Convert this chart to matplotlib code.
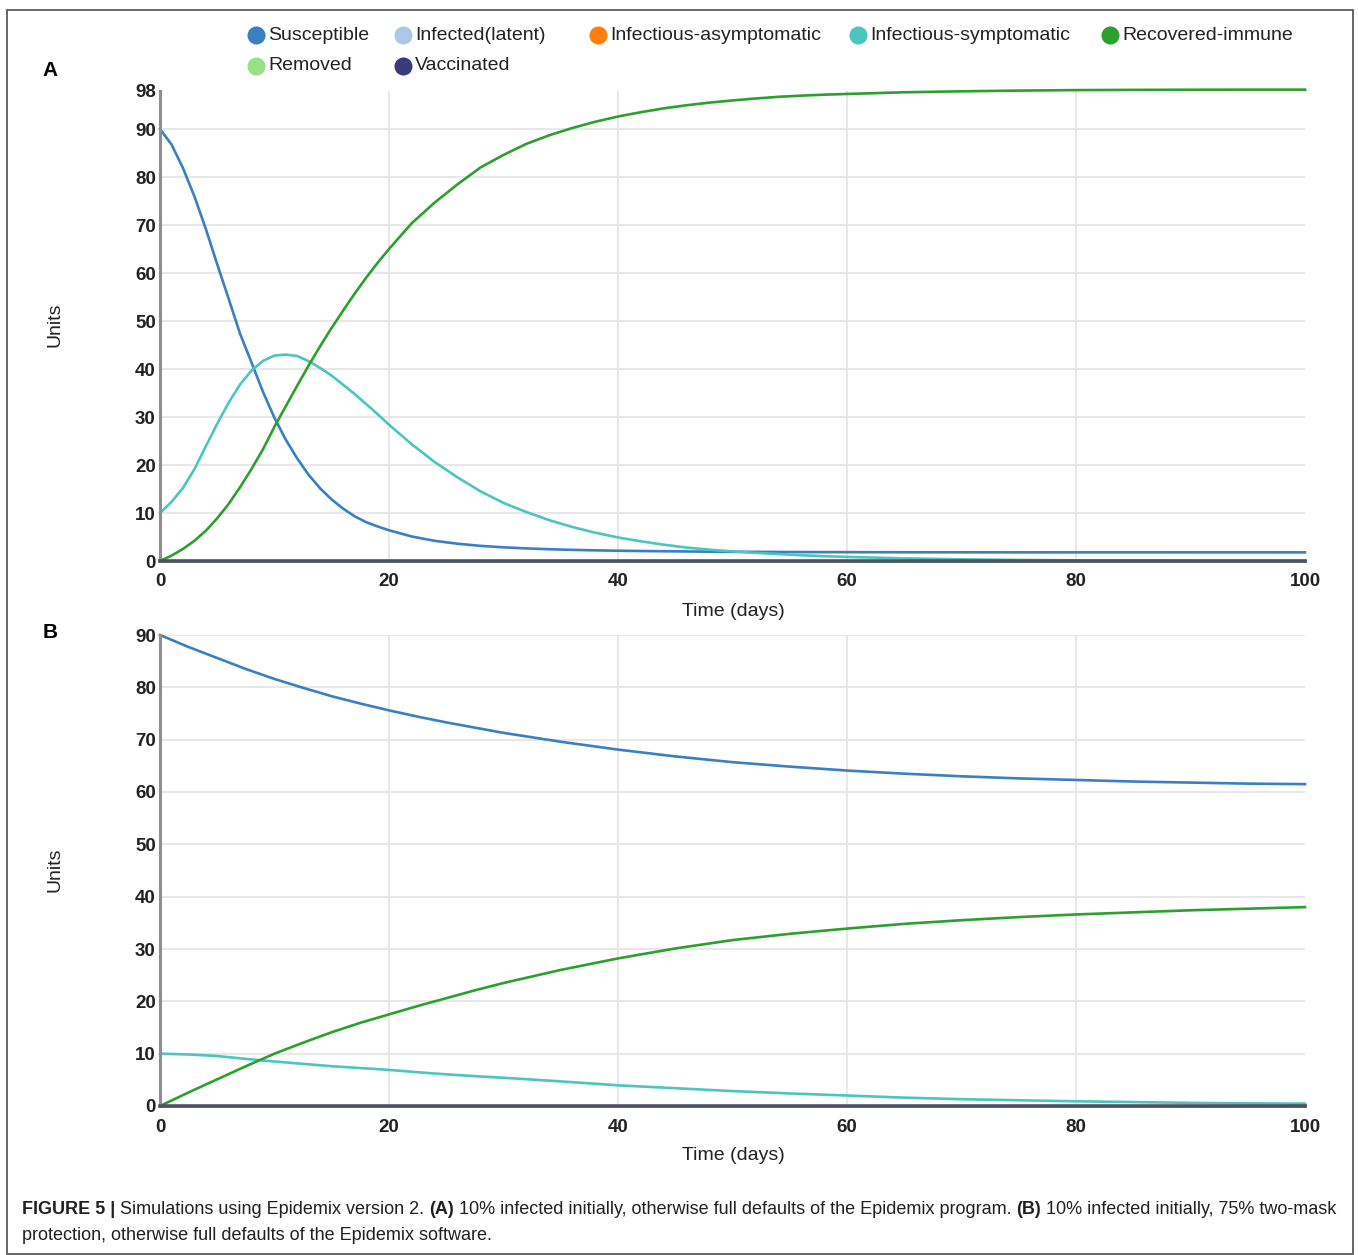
import matplotlib
matplotlib.use('Agg')
import matplotlib.pyplot as plt
from matplotlib.patches import Rectangle

NARROW = ['Liberation Sans Narrow', 'Liberation Sans', 'DejaVu Sans']
plt.rcParams['font.family'] = NARROW

# ---- data ----
# panel A (10% infected, full defaults)
tA = [0, 1, 2, 3, 4, 5, 6, 7, 8, 9, 10, 11, 12, 13, 14, 15, 16, 17, 18, 19, 20,
      22, 24, 26, 28, 30, 32, 34, 36, 38, 40, 42, 44, 46, 48, 50, 52, 54, 56, 58, 60,
      65, 70, 75, 80, 85, 90, 95, 100]
susA = [90, 86.8, 81.9, 76.0, 69.2, 61.8, 54.6, 47.3, 41.3, 35.2, 29.8, 25.2, 21.3,
        17.9, 15.1, 12.8, 10.9, 9.3, 8.1, 7.2, 6.4,
        5.1, 4.2, 3.6, 3.15, 2.85, 2.62, 2.45, 2.32, 2.22, 2.14, 2.08, 2.03, 1.99, 1.95,
        1.92, 1.9, 1.88, 1.86, 1.85, 1.84,
        1.82, 1.81, 1.8, 1.8, 1.8, 1.8, 1.8, 1.8]
symA = [10, 12.3, 15.2, 19.1, 23.9, 28.6, 33.0, 36.8, 39.7, 41.7, 42.8, 43.0, 42.7,
        41.6, 40.2, 38.6, 36.7, 34.8, 32.7, 30.6, 28.4,
        24.3, 20.6, 17.4, 14.5, 12.1, 10.2, 8.5, 7.1, 5.9, 4.9, 4.1, 3.4, 2.8, 2.35,
        2.0, 1.7, 1.45, 1.2, 1.0, 0.85,
        0.55, 0.35, 0.22, 0.14, 0.09, 0.06, 0.04, 0.03]
recA = [0, 1.1, 2.5, 4.2, 6.3, 8.9, 11.9, 15.4, 19.2, 23.3, 28.0, 32.3, 36.6,
        40.8, 44.8, 48.6, 52.2, 55.7, 59.0, 62.1, 65.0,
        70.4, 74.7, 78.5, 82.0, 84.6, 86.9, 88.7, 90.2, 91.5, 92.6, 93.5, 94.3, 94.95, 95.5,
        95.95, 96.35, 96.7, 96.95, 97.15, 97.3,
        97.65, 97.85, 98.0, 98.1, 98.15, 98.18, 98.2, 98.2]

# panel B (10% infected, 75% two-mask protection)
tB = [0, 2.5, 5, 7.5, 10, 12.5, 15, 17.5, 20, 22.5, 25, 27.5, 30,
      35, 40, 45, 50, 55, 60, 65, 70, 75, 80, 85, 90, 95, 100]
susB = [90, 87.7, 85.6, 83.5, 81.6, 79.9, 78.3, 76.9, 75.6, 74.4, 73.3, 72.3, 71.3,
        69.6, 68.1, 66.8, 65.7, 64.85, 64.1, 63.5, 63.0, 62.6, 62.3, 62.0, 61.8, 61.6, 61.5]
symB = [10, 9.85, 9.55, 9.0, 8.5, 8.05, 7.6, 7.25, 6.9, 6.45, 6.05, 5.7, 5.4,
        4.7, 3.95, 3.4, 2.85, 2.4, 2.0, 1.6, 1.3, 1.1, 0.9, 0.75, 0.6, 0.5, 0.45]
recB = [0, 2.6, 5.1, 7.6, 10.0, 12.1, 14.1, 15.9, 17.5, 19.1, 20.6, 22.1, 23.5,
        26.0, 28.2, 30.1, 31.7, 32.9, 33.9, 34.8, 35.5, 36.1, 36.6, 37.0, 37.4, 37.7, 38.0]

# compartments that stay at zero in both runs
t_zero = [0, 100]
zero = [0, 0]

labels = ['Susceptible', 'Infected(latent)', 'Infectious-asymptomatic',
          'Infectious-symptomatic', 'Recovered-immune', 'Removed', 'Vaccinated']
colors = ['#3a7fc1', '#aec7e8', '#ff7f0e', '#4cc4bf', '#2ca02c', '#98df8a', '#393b79']

yticksA = [0, 10, 20, 30, 40, 50, 60, 70, 80, 90, 98]
yticksB = [0, 10, 20, 30, 40, 50, 60, 70, 80, 90]
xticks = [0, 20, 40, 60, 80, 100]

W, H = 1358, 1255
fig = plt.figure(figsize=(W / 100, H / 100), dpi=100)

# overlay in pixel coordinates for border, legend, labels and caption
ov = fig.add_axes([0, 0, 1, 1], zorder=-1)
ov.set_xlim(0, W)
ov.set_ylim(H, 0)
ov.axis('off')
ov.add_patch(Rectangle((7, 10), 1346, 1244, fill=False, ec='#5a5a5a', lw=1.3))


def panel(top_px, bottom_px, ymax, yticks, t, sus, sym, rec):
    ax = fig.add_axes([160 / W, 1 - bottom_px / H, 1145 / W, (bottom_px - top_px) / H])
    ax.set_facecolor('none')
    ax.set_xlim(0, 100)
    ax.set_ylim(0, ymax)
    for v in yticks:
        if 0 < v <= 90:
            ax.axhline(v, color='#e8e8e8', lw=1.5, zorder=0)
    for v in xticks[1:-1]:
        ax.axvline(v, color='#e8e8e8', lw=1.5, zorder=0)
    ax.plot(t_zero, zero, color=colors[1], lw=1.8, clip_on=False)
    ax.plot(t_zero, zero, color=colors[2], lw=1.8, clip_on=False)
    ax.plot(t_zero, zero, color=colors[5], lw=1.8, clip_on=False)
    ax.plot(t, sus, color=colors[0], lw=1.9, clip_on=False)
    ax.plot(t, sym, color=colors[3], lw=1.9, clip_on=False)
    ax.plot(t, rec, color=colors[4], lw=1.9, clip_on=False)
    ax.plot(t_zero, zero, color='#4a5264', lw=2.6, clip_on=False, zorder=5)
    for s in ['top', 'right', 'bottom']:
        ax.spines[s].set_visible(False)
    ax.spines['left'].set_color('#8f8f8f')
    ax.spines['left'].set_linewidth(2.2)
    ax.set_yticks(yticks)
    ax.set_xticks(xticks)
    ax.tick_params(length=0, labelsize=13.5, labelcolor='#222222')
    ax.tick_params(axis='y', pad=3)
    ax.tick_params(axis='x', pad=9)
    for lab in ax.get_xticklabels() + ax.get_yticklabels():
        lab.set_fontweight('bold')
    return ax


panel(90.6, 561, 98, yticksA, tA, susA, symA, recA)
panel(635, 1106, 90, yticksB, tB, susB, symB, recB)

# legend
lx = [256, 403, 598, 858, 1110, 256, 403]
ly = [35, 35, 35, 35, 35, 66, 66]
for x, y, lab, c in zip(lx, ly, labels, colors):
    ov.plot([x], [y], 'o', ms=13, color=c, mec='none')
    ov.text(x + 12, y, lab, fontsize=14, color='#222222', va='center', ha='left')

# axis titles and panel letters
for y in [325, 870]:
    ov.text(55, y, 'Units', rotation=90, fontsize=14, color='#222222', va='center', ha='center')
for y in [611, 1156]:
    ov.text(733, y, 'Time (days)', fontsize=14, color='#222222', va='center', ha='center')
ov.text(50, 70, 'A', fontsize=15, fontweight='bold', va='center', ha='center')
ov.text(50, 632, 'B', fontsize=15, fontweight='bold', va='center', ha='center')

# caption, placed piece by piece
cap1 = [('FIGURE 5 |', 'bold'), (' Simulations using Epidemix version 2. ', 'normal'),
        ('(A)', 'bold'),
        (' 10% infected initially, otherwise full defaults of the Epidemix program. ', 'normal'),
        ('(B)', 'bold'), (' 10% infected initially, 75% two-mask', 'normal')]
cap2 = [('protection, otherwise full defaults of the Epidemix software.', 'normal')]

renderer = fig.canvas.get_renderer()


def caption_line(segs, x0, y, size):
    x = x0
    for s, w in segs:
        txt = ov.text(x, y, s, fontsize=size, fontweight=w, color='#231f20',
                      va='center', ha='left')
        bb = txt.get_window_extent(renderer)
        x += bb.width


caption_line(cap1, 22, 1210, 13)
caption_line(cap2, 22, 1235, 13)

fig.savefig('out.png', dpi=100)
